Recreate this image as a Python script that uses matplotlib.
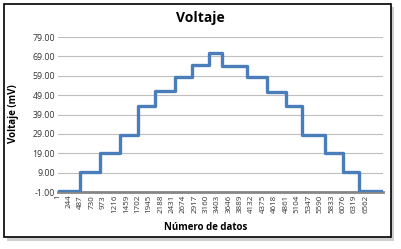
import matplotlib
matplotlib.use("Agg")
import matplotlib.pyplot as plt
from matplotlib.patches import Rectangle

# Step start indices (Número de datos) and their voltage levels (mV)
step_starts = [1, 469, 895, 1321, 1705, 2067, 2494, 2856, 3219, 3496, 4029, 4455, 4860, 5201, 5691, 6075, 6416]
step_levels = [-0.5, 9.5, 19.0, 28.6, 43.2, 51.1, 58.5, 64.5, 70.8, 64.2, 58.3, 50.7, 43.2, 28.6, 19.0, 9.5, -0.5]
n_points = 6930

x_tick_labels = [str(v) for v in range(1, 6563, 243)]
y_ticks = [-1, 9, 19, 29, 39, 49, 59, 69, 79]

fig = plt.figure(figsize=(4.01, 2.49), dpi=100)
plt.rcParams['font.family'] = ['Open Sans', 'DejaVu Sans']

# outer chart frame with shadow
shadow = Rectangle((7 / 401, 1 - 241 / 249), 387 / 401, 234 / 249, transform=fig.transFigure,
                   facecolor="#b0b0b0", edgecolor="none", zorder=-2, alpha=0.6)
frame = Rectangle((4 / 401, 1 - 237 / 249), 387 / 401, 233 / 249, transform=fig.transFigure,
                  facecolor="white", edgecolor="black", linewidth=1.2, zorder=-1)
fig.patches.extend([shadow, frame])

ax = fig.add_axes([58 / 401, (249 - 192) / 249, 325 / 401, 155 / 249])
ax.set_facecolor("none")

xs = step_starts + [n_points]
ys = step_levels + [step_levels[-1]]
ax.step(xs, ys, where="post", color="#4a7ebb", linewidth=2.4, zorder=3)

ax.set_xlim(1, n_points)
ax.set_ylim(-1, 79)
ax.set_yticks(y_ticks)
ax.set_yticklabels([f"{v:.2f}" for v in y_ticks], fontsize=6.3, color="#333333")
ax.set_xticks(list(range(1, 6563, 243)))
ax.set_xticklabels(x_tick_labels, rotation=90, fontsize=5.8, color="#333333")
ax.tick_params(axis="both", length=0, pad=2)
ax.grid(axis="y", color="#bfbfbf", linewidth=0.8)
ax.set_axisbelow(True)
for s in ["top", "right", "left"]:
    ax.spines[s].set_visible(False)
ax.spines["bottom"].set_color("#868686")
ax.spines["bottom"].set_linewidth(2)
ax.spines["bottom"].set_zorder(2)

fig.text(200 / 401, 1 - 18 / 249, "Voltaje", ha="center", va="center", fontsize=10, fontweight="bold")
fig.text(206 / 401, 1 - 227 / 249, "Número de datos", ha="center", va="center", fontsize=7, fontweight="bold")
fig.text(14 / 401, 1 - 114 / 249, "Voltaje (mV)", ha="center", va="center", rotation=90, fontsize=7, fontweight="bold")

fig.savefig("out.png", dpi=100)
